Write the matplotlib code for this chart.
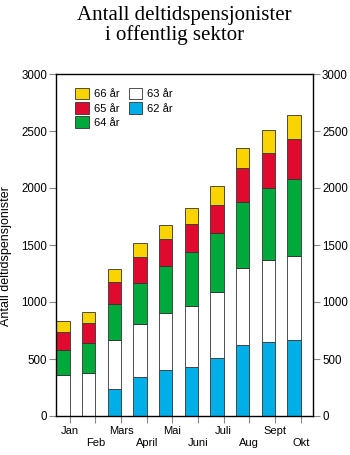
import numpy as np
import matplotlib.pyplot as plt

months = ["Jan", "Feb", "Mars", "April", "Mai", "Juni", "Juli", "Aug", "Sept", "Okt"]
age62 = [0, 0, 240, 339, 401, 430, 509, 620, 649, 669]
age63 = [357, 374, 427, 465, 500, 538, 578, 675, 719, 735]
age64 = [222, 269, 318, 366, 412, 471, 515, 585, 629, 672]
age65 = [161, 170, 190, 222, 237, 248, 252, 293, 310, 351]
age66 = [91, 99, 112, 126, 125, 140, 164, 181, 199, 211]

series = [
    ("62 år", age62, "#00aee8"),
    ("63 år", age63, "#ffffff"),
    ("64 år", age64, "#00a93c"),
    ("65 år", age65, "#e00a2e"),
    ("66 år", age66, "#f9d400"),
]

plt.rcParams['font.family'] = ['Liberation Sans', 'DejaVu Sans']

W, H = 350, 455
fig = plt.figure(figsize=(W / 100, H / 100), dpi=100)
ax = fig.add_axes([56 / W, 1 - 416 / H, (313 - 56) / W, (416 - 74) / H])

x = np.arange(len(months))
w = 0.525
bottom = np.zeros(len(months))
handles = {}
for name, vals, col in series:
    vals = np.array(vals, dtype=float)
    b = ax.bar(x, vals, w, bottom=bottom, color=col, edgecolor="#333333",
               linewidth=0.6, label=name)
    handles[name] = b
    bottom += vals

ax.set_xlim(-0.27, 9.74)
ax.set_ylim(0, 3000)
ax.set_yticks(range(0, 3001, 500))
ax.set_xticks(x + w / 2)
ax.set_xticklabels([m if i % 2 == 0 else "\n" + m for i, m in enumerate(months)],
                   fontsize=8, linespacing=1.3)
ax.tick_params(axis='y', labelsize=8.3, left=True, right=True, labelright=True,
               length=5, color="#888888", pad=1.5)
ax.tick_params(axis='x', length=5, color="#888888", pad=2)
for s in ax.spines.values():
    s.set_linewidth(1.0)

# y-akse tittel, plassert manuelt helt til venstre
fig.text(0.5 / W, 1 - 256 / H, "Antall deltidspensjonister", rotation=90,
         ha="left", va="center", fontsize=9)

order = ["66 år", "65 år", "64 år", "63 år", "62 år"]
leg = ax.legend([handles[o] for o in order], order, ncol=2, loc="upper left",
                bbox_to_anchor=(0.04, 0.985), frameon=False, fontsize=8,
                handlelength=1.2, handleheight=1.2, handletextpad=0.5,
                columnspacing=0.8, labelspacing=0.25, borderpad=0.3)

serif = ["Liberation Serif", "DejaVu Serif"]
fig.text(184 / W, 1 - 20 / H, "Antall deltidspensjonister", ha="center",
         va="baseline", fontsize=15, family=serif)
fig.text(175 / W, 1 - 40 / H, "i offentlig sektor", ha="center",
         va="baseline", fontsize=15, family=serif)

fig.savefig("out.png", dpi=100)
